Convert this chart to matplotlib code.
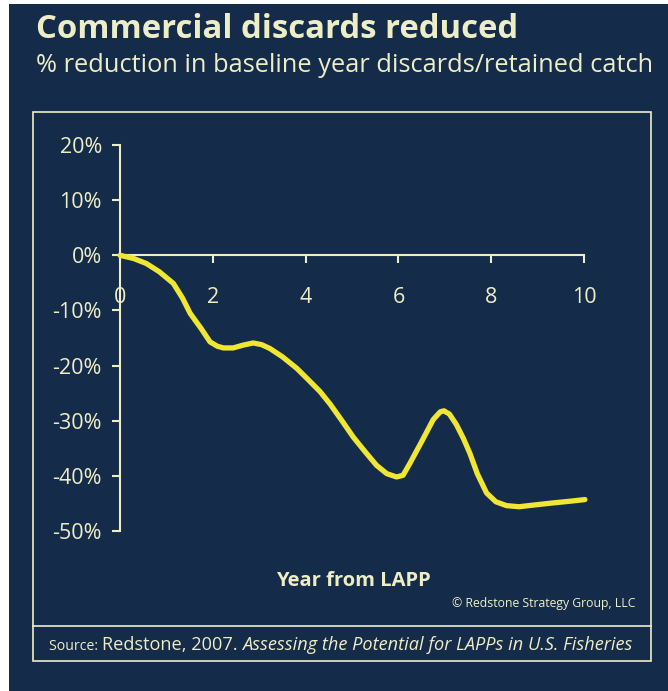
import matplotlib.pyplot as plt
from matplotlib.patches import Rectangle
from matplotlib.lines import Line2D

# Discard reduction vs. years since LAPP introduction
years = [0.0, 0.3, 0.57, 0.85, 1.15, 1.35, 1.51, 1.75, 1.94, 2.1, 2.23, 2.44, 2.65, 2.87,
         3.05, 3.23, 3.5, 3.81, 4.05, 4.31, 4.53, 4.8, 5.03, 5.3, 5.53, 5.75, 5.96,
         6.1, 6.25, 6.5, 6.75, 6.9, 6.98, 7.1, 7.25, 7.4, 7.54, 7.7, 7.9, 8.1, 8.33,
         8.6, 8.91, 9.34, 9.7, 10.02]
reduction = [0.0, -0.6, -1.5, -3.0, -5.1, -7.8, -10.5, -13.3, -15.7, -16.5, -16.8, -16.8,
             -16.3, -15.9, -16.2, -16.9, -18.4, -20.5, -22.5, -24.7, -27.0, -30.2, -33.0,
             -35.8, -38.1, -39.6, -40.2, -39.9, -37.7, -33.8, -29.8, -28.4, -28.2, -28.8,
             -30.7, -33.2, -35.9, -39.6, -43.1, -44.7, -45.4, -45.6, -45.3, -44.9, -44.6, -44.3]

y_ticks = [20, 10, 0, -10, -20, -30, -40, -50]
y_labels = ['20%', '10%', '0%', '-10%', '-20%', '-30%', '-40%', '-50%']
x_ticks = [0, 2, 4, 6, 8, 10]

NAVY = '#152b4a'
CREAM = '#eeeec6'
YELLOW = '#f0e634'
FONT = 'Open Sans'

W, H = 668, 691
fig = plt.figure(figsize=(W / 100, H / 100), dpi=100, facecolor='white')


def fx(px):
    return px / W


def fy(py):
    return 1 - py / H


# navy slide background
fig.patches.append(Rectangle((fx(9), 0), 1 - fx(9), fy(4), transform=fig.transFigure,
                             facecolor=NAVY, edgecolor='none', zorder=-5))
# panel frame and the source strip divider
fig.patches.append(Rectangle((fx(33), fy(661)), fx(651) - fx(33), fy(112) - fy(661),
                             transform=fig.transFigure, facecolor='none',
                             edgecolor=CREAM, lw=1.2, zorder=1))
fig.lines.append(Line2D([fx(33), fx(651)], [fy(626), fy(626)], transform=fig.transFigure,
                        color=CREAM, lw=1.2))

fig.text(fx(36), fy(38), 'Commercial discards reduced', color=CREAM, fontsize=23.7,
         fontweight='bold', family=FONT, va='baseline')
fig.text(fx(36), fy(72), '% reduction in baseline year discards/retained catch', color=CREAM,
         fontsize=18.3, family=FONT, va='baseline')

ax = fig.add_axes([fx(120), fy(531), fx(584) - fx(120), fy(145) - fy(531)])
ax.set_facecolor('none')
ax.plot(years, reduction, color=YELLOW, lw=3.8, solid_capstyle='round',
        solid_joinstyle='round', clip_on=False, zorder=3)

ax.set_xlim(0, 10)
ax.set_ylim(-50, 20)
ax.spines['left'].set_position(('data', 0))
ax.spines['bottom'].set_position(('data', 0))
for s in ('top', 'right'):
    ax.spines[s].set_visible(False)
for s in ('left', 'bottom'):
    ax.spines[s].set_color(CREAM)
    ax.spines[s].set_linewidth(1.5)

ax.set_yticks(y_ticks)
ax.set_yticklabels(y_labels)
ax.set_xticks(x_ticks)
ax.tick_params(axis='y', direction='out', length=6, width=1.5, color=CREAM,
               labelcolor=CREAM, labelsize=15.5, pad=7)
ax.tick_params(axis='x', direction='out', length=6, width=1.5, color=CREAM,
               labelcolor=CREAM, labelsize=15.5, pad=17)
for lab in ax.get_xticklabels() + ax.get_yticklabels():
    lab.set_family(FONT)

fig.text(fx(353), fy(581), 'Year from LAPP', color=CREAM, fontsize=14.5, fontweight='bold',
         family=FONT, ha='center', va='center')
fig.text(fx(636), fy(603), '\u00a9 Redstone Strategy Group, LLC', color=CREAM, fontsize=8.8,
         family=FONT, ha='right', va='center')

# source line built from pieces of differing size and style
fig.canvas.draw()
renderer = fig.canvas.get_renderer()
x = 49
pieces = [('Source: ', 10.2, 'normal'), ('Redstone, 2007. ', 13.1, 'normal'),
          ('Assessing the Potential for LAPPs in U.S. Fisheries', 13.1, 'italic')]
for txt, size, style in pieces:
    t = fig.text(fx(x), fy(650), txt, color=CREAM, fontsize=size, style=style,
                 family=FONT, va='baseline')
    x += t.get_window_extent(renderer).width

fig.savefig('out.png', dpi=100, facecolor='white')
